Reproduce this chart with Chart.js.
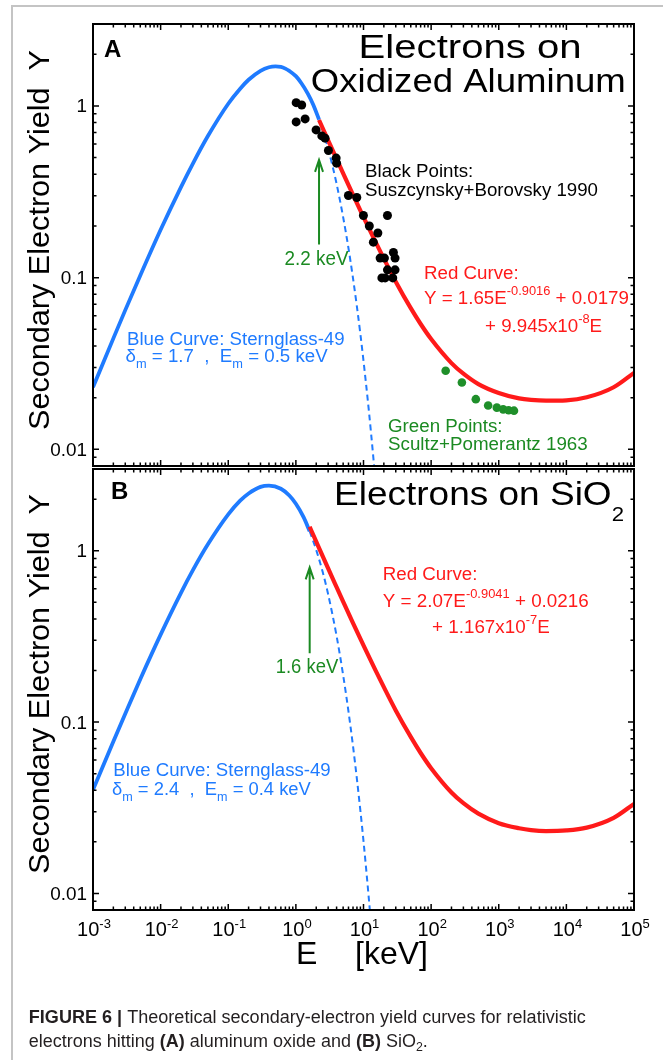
<!DOCTYPE html>
<html>
<head>
<meta charset="utf-8">
<script src="https://cdn.jsdelivr.net/npm/chart.js@4.4.1/dist/chart.umd.min.js"></script>
<style>
  html, body { margin: 0; padding: 0; background: #fff; overflow: hidden; }
  #frame { position: absolute; left: 11px; top: 5px; width: 800px; height: 1200px;
           border-left: 2px solid #c4c4c4; border-top: 2px solid #c4c4c4; }
  canvas { position: absolute; left: 0; top: 0; }
</style>
</head>
<body>
<div id="frame"></div>
<canvas id="chartA" width="663" height="1060"></canvas>
<canvas id="chartB" width="663" height="1060"></canvas>
<script>
// ---- data (E in keV, Y = secondary electron yield) ----

// panel A: oxidized aluminum
const aSternE = [0.001, 0.002, 0.003, 0.005, 0.01, 0.02, 0.03, 0.05, 0.1, 0.15, 0.2, 0.3, 0.4, 0.5, 0.6, 0.7, 0.8, 1, 1.2, 1.5, 1.8, 2.2];
const aSternY = [0.0230, 0.0443, 0.0647, 0.103, 0.190, 0.337, 0.462, 0.668, 1.03, 1.26, 1.42, 1.60, 1.68, 1.70, 1.69, 1.65, 1.60, 1.49, 1.36, 1.18, 1.02, 0.834];
const aDashE = [2.2, 2.6, 3, 3.5, 4, 5, 6, 7, 8, 9, 10, 12, 14, 16];
const aDashY = [0.834, 0.684, 0.563, 0.443, 0.352, 0.225, 0.148, 0.0990, 0.0675, 0.0468, 0.0328, 0.0168, 0.0089, 0.0049];
const aRedE = [2.2, 3, 4, 5, 7, 10, 15, 20, 30, 50, 70, 100, 200, 300, 500, 1000, 2000, 3000, 5000, 10000, 20000, 50000, 100000];
const aRedY = [0.828, 0.631, 0.491, 0.405, 0.303, 0.225, 0.162, 0.129, 0.0948, 0.0664, 0.0537, 0.0439, 0.0318, 0.0276, 0.0240, 0.0213, 0.0198, 0.0194, 0.0192, 0.0193, 0.0201, 0.0230, 0.0279];
const blackE = [1.01, 1.22, 1.01, 1.37, 1.99, 2.42, 2.70, 3.03, 3.94, 4.0, 5.98, 7.96, 9.97, 22.6, 12.2, 16.3, 14.0, 17.6, 20.4, 27.7, 29.3, 22.6, 29.3, 18.7, 20.9, 27.1];
const blackY = [1.045, 1.013, 0.807, 0.840, 0.725, 0.669, 0.649, 0.550, 0.497, 0.464, 0.301, 0.293, 0.230, 0.230, 0.200, 0.182, 0.161, 0.130, 0.130, 0.140, 0.130, 0.111, 0.111, 0.0996, 0.0996, 0.0996];
const greenE = [164, 285, 458, 697, 937, 1162, 1400, 1679];
const greenY = [0.0287, 0.0245, 0.0196, 0.0180, 0.0175, 0.0171, 0.0169, 0.0168];

// panel B: SiO2
const bSternE = [0.001, 0.002, 0.003, 0.005, 0.01, 0.02, 0.03, 0.05, 0.1, 0.15, 0.2, 0.3, 0.4, 0.6, 0.8, 1, 1.3, 1.6];
const bSternY = [0.0402, 0.0771, 0.112, 0.178, 0.324, 0.568, 0.770, 1.09, 1.63, 1.96, 2.16, 2.36, 2.40, 2.30, 2.10, 1.88, 1.57, 1.30];
const bDashE = [1.6, 2, 2.5, 3, 4, 5, 6, 7, 8, 9, 10, 12, 14];
const bDashY = [1.30, 1.01, 0.748, 0.557, 0.318, 0.188, 0.115, 0.0723, 0.0463, 0.0303, 0.0202, 0.0093, 0.0045];
const bRedE = [1.6, 2, 3, 4, 5, 7, 10, 15, 20, 30, 50, 70, 100, 200, 300, 500, 1000, 2000, 3000, 5000, 10000, 20000, 50000, 100000];
const bRedY = [1.38, 1.13, 0.788, 0.613, 0.505, 0.378, 0.280, 0.201, 0.160, 0.117, 0.0819, 0.0660, 0.0538, 0.0388, 0.0336, 0.0292, 0.0257, 0.0240, 0.0234, 0.0231, 0.0233, 0.0242, 0.0276, 0.0333];

// arrows marking the crossover energies (E, from Y, to Y)
const arrowA = [2.2, 0.156, 0.485];
const arrowB = [1.6, 0.252, 0.80];

// axes
const xTickPowers = [-3, -2, -1, 0, 1, 2, 3, 4, 5];
const yTickValues = [0.01, 0.1, 1];
const yTickLabels = ['0.01', '0.1', '1'];

const BLUE = '#1f7bff';
const RED = '#ff1a1a';
const GREEN = '#1b8a22';
const FONT = '"Liberation Sans", Arial, Helvetica, sans-serif';

const pts = (xs, ys) => xs.map((v, i) => ({ x: v, y: ys[i] }));

function runFont(r) {
  return (r[2] ? 'bold ' : '') + r[1] + 'px ' + FONT;
}

// draw a line of text runs [text, size, bold, dy], optionally stretched to a width
function drawRuns(ctx, n) {
  let nat = 0;
  n.t.forEach(r => { ctx.font = runFont(r); nat += ctx.measureText(r[0]).width; });
  const sx = n.w ? n.w / nat : (n.sx || 1);
  let off = 0;
  if (n.align === 'center') off = -nat * sx / 2;
  if (n.align === 'right') off = -nat * sx;
  ctx.save();
  ctx.translate(n.x, n.y);
  if (n.rot) ctx.rotate(n.rot);
  ctx.translate(off, 0);
  ctx.scale(sx, 1);
  ctx.fillStyle = n.c || '#000';
  ctx.textBaseline = 'alphabetic';
  let cx = 0;
  n.t.forEach(r => {
    ctx.font = runFont(r);
    ctx.fillText(r[0], cx, r[3] || 0);
    cx += ctx.measureText(r[0]).width;
  });
  ctx.restore();
}

const figPlugin = {
  id: 'fig',
  afterDraw(chart, args, o) {
    const { ctx, chartArea: a, scales: { x, y } } = chart;
    ctx.save();
    // ticks (inward on all four sides)
    ctx.strokeStyle = '#000';
    ctx.lineWidth = 1.5;
    ctx.beginPath();
    xTickPowers.forEach(p => {
      for (let m = 1; m <= 9; m++) {
        const v = m * Math.pow(10, p);
        if (v > 1e5 * 1.0001) break;
        const px = x.getPixelForValue(v);
        const len = m === 1 ? 6 : 3.5;
        ctx.moveTo(px, a.top); ctx.lineTo(px, a.top + len);
        ctx.moveTo(px, a.bottom); ctx.lineTo(px, a.bottom - len);
      }
    });
    for (let p = -3; p <= 0; p++) {
      for (let m = 1; m <= 9; m++) {
        const v = m * Math.pow(10, p);
        if (v < y.min || v > y.max) continue;
        const py = y.getPixelForValue(v);
        const len = m === 1 ? 6 : 3.5;
        ctx.moveTo(a.left, py); ctx.lineTo(a.left + len, py);
        ctx.moveTo(a.right, py); ctx.lineTo(a.right - len, py);
      }
    }
    ctx.stroke();
    // frame
    ctx.lineWidth = 2;
    ctx.strokeRect(a.left, a.top, a.right - a.left, a.bottom - a.top);

    // y tick labels
    yTickValues.forEach((v, i) => {
      drawRuns(ctx, { t: [[yTickLabels[i], 18]], x: 87, y: y.getPixelForValue(v) + 6.5, sx: 1.05, align: 'right' });
    });

    // y title
    drawRuns(ctx, { t: [['Secondary Electron Yield  Y', 29]], x: 49, y: o.titleY, rot: -Math.PI / 2,
                    w: 380, align: 'center' });

    // crossover arrow
    const ar = o.arrow;
    const ax = x.getPixelForValue(ar[0]);
    const y0 = y.getPixelForValue(ar[1]);
    const y1 = y.getPixelForValue(ar[2]);
    ctx.strokeStyle = GREEN;
    ctx.lineWidth = 2;
    ctx.beginPath();
    ctx.moveTo(ax, y0); ctx.lineTo(ax, y1);
    ctx.moveTo(ax - 4, y1 + 12); ctx.lineTo(ax, y1); ctx.lineTo(ax + 4, y1 + 12);
    ctx.stroke();

    o.notes.forEach(n => drawRuns(ctx, n));

    if (o.bottom) {
      xTickPowers.forEach(p => {
        drawRuns(ctx, { t: [['10', 20], [String(p), 13, 0, -8.5]], x: x.getPixelForValue(Math.pow(10, p)) + 1,
                        y: 936, align: 'center' });
      });
      drawRuns(ctx, { t: [['E', 32]], x: 296, y: 964.3 });
      drawRuns(ctx, { t: [['[keV]', 32]], x: 355, y: 964.3 });
    }
    ctx.restore();
  }
};

const notesA = [
  { t: [['A', 24, 1]], x: 104, y: 57 },
  { t: [['Electrons on', 32.5]], x: 358.6, y: 58.3, w: 223 },
  { t: [['Oxidized Aluminum', 32.5]], x: 310.8, y: 91.7, w: 315 },
  { t: [['Black Points:', 17.5]], x: 365, y: 176.7, sx: 1.07 },
  { t: [['Suszcynsky+Borovsky 1990', 17.5]], x: 365, y: 195.7, w: 233 },
  { t: [['2.2 keV', 19.5]], x: 284.5, y: 264.8, w: 64, c: GREEN },
  { t: [['Red Curve:', 17.5]], x: 424, y: 279.3, sx: 1.07, c: RED },
  { t: [['Y = 1.65E', 17.5], ['-0.9016', 12, 0, -9], [' + 0.0179', 17.5]], x: 424, y: 304, sx: 1.07, c: RED },
  { t: [['+ 9.945x10', 17.5], ['-8', 12, 0, -9], ['E', 17.5]], x: 485, y: 331.7, sx: 1.07, c: RED },
  { t: [['Blue Curve: Sternglass-49', 17.5]], x: 127, y: 345, w: 217.6, c: BLUE },
  { t: [['δ', 17.5], ['m', 12, 0, 6], [' = 1.7  ,  E', 17.5], ['m', 12, 0, 6], [' = 0.5 keV', 17.5]], x: 125.6, y: 361.7, w: 202, c: BLUE },
  { t: [['Green Points:', 17.5]], x: 388, y: 432.3, sx: 1.07, c: GREEN },
  { t: [['Scultz+Pomerantz 1963', 17.5]], x: 388, y: 450, w: 199.7, c: GREEN }
];

const notesB = [
  { t: [['B', 24, 1]], x: 111, y: 499 },
  { t: [['Electrons on SiO', 32.5], ['2', 19.5, 0, 15.7]], x: 334, y: 505, w: 290 },
  { t: [['Red Curve:', 17.5]], x: 382.7, y: 580, sx: 1.07, c: RED },
  { t: [['Y = 2.07E', 17.5], ['-0.9041', 12, 0, -9], [' + 0.0216', 17.5]], x: 382.7, y: 606.7, w: 206, c: RED },
  { t: [['+ 1.167x10', 17.5], ['-7', 12, 0, -9], ['E', 17.5]], x: 432, y: 633.3, w: 117.7, c: RED },
  { t: [['1.6 keV', 19.5]], x: 275.7, y: 673.3, w: 62.6, c: GREEN },
  { t: [['Blue Curve: Sternglass-49', 17.5]], x: 113.3, y: 776, w: 217.4, c: BLUE },
  { t: [['δ', 17.5], ['m', 12, 0, 6], [' = 2.4  ,  E', 17.5], ['m', 12, 0, 6], [' = 0.4 keV', 17.5]], x: 112, y: 795, w: 198.8, c: BLUE },
  { t: [['FIGURE 6 | ', 17.5, 1], ['Theoretical secondary-electron yield curves for relativistic', 17.5]], x: 28.8, y: 1022.7, w: 557, c: '#231f20' },
  { t: [['electrons hitting ', 17.5], ['(A)', 17.5, 1], [' aluminum oxide and ', 17.5], ['(B)', 17.5, 1], [' SiO', 17.5], ['2', 12, 0, 4], ['.', 17.5]], x: 28.8, y: 1047, w: 399, c: '#231f20' }
];

function lineSet(data, color, width, dash) {
  return { data, showLine: true, borderColor: color, borderWidth: width, borderDash: dash || [],
           pointRadius: 0, cubicInterpolationMode: 'monotone', fill: false };
}
function dotSet(data, color, r) {
  return { data, showLine: false, pointRadius: r, pointBackgroundColor: color, pointBorderWidth: 0 };
}

function makeChart(id, datasets, padding, pluginOpts) {
  return new Chart(document.getElementById(id), {
    type: 'scatter',
    data: { datasets },
    options: {
      responsive: false,
      animation: false,
      layout: { padding },
      plugins: { legend: { display: false }, tooltip: { enabled: false }, fig: pluginOpts },
      scales: {
        x: { type: 'logarithmic', min: 1e-3, max: 1e5, display: false },
        y: { type: 'logarithmic', min: 0.008, max: 3, display: false }
      }
    },
    plugins: [figPlugin]
  });
}

makeChart('chartA', [
  dotSet(pts(blackE, blackY), '#000', 4.5),
  dotSet(pts(greenE, greenY), '#1f8f2a', 4.3),
  lineSet(pts(aRedE, aRedY), RED, 4.2),
  lineSet(pts(aSternE, aSternY), BLUE, 3.8),
  lineSet(pts(aDashE, aDashY), BLUE, 2, [6, 4])
], { left: 93, right: 29, top: 24, bottom: 594 }, { notes: notesA, arrow: arrowA, titleY: 240 });

makeChart('chartB', [
  lineSet(pts(bRedE, bRedY), RED, 4.2),
  lineSet(pts(bSternE, bSternY), BLUE, 3.8),
  lineSet(pts(bDashE, bDashY), BLUE, 2, [6, 4])
], { left: 93, right: 29, top: 469, bottom: 150 }, { notes: notesB, arrow: arrowB, titleY: 684, bottom: true });
</script>
</body>
</html>
